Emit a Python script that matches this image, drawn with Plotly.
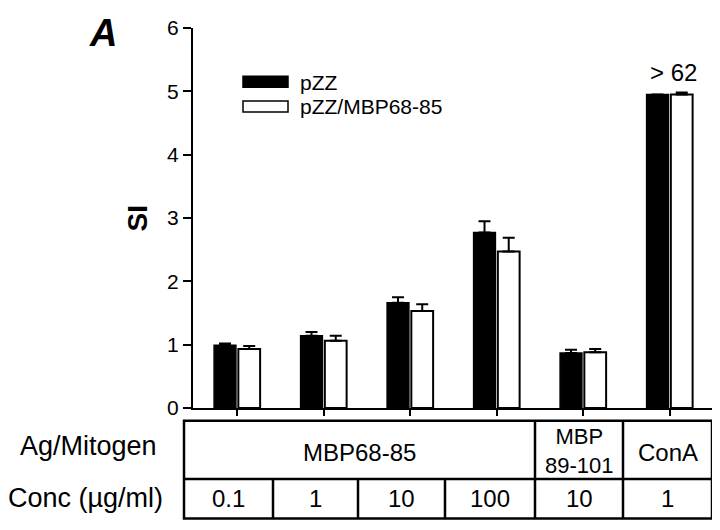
import plotly.graph_objects as go

# данные
groups = [0, 1, 2, 3, 4, 5]
pzz = [0.99, 1.14, 1.66, 2.77, 0.87, 4.95]
pzz_err = [0.03, 0.06, 0.09, 0.18, 0.05, 0.0]
pzz_mbp = [0.93, 1.06, 1.53, 2.47, 0.88, 4.95]
pzz_mbp_err = [0.05, 0.08, 0.11, 0.22, 0.05, 0.03]
ag_labels = ["MBP68-85", "MBP<br>89-101", "ConA"]
ag_spans = [(0, 4), (4, 5), (5, 6)]
conc_labels = ["0.1", "1", "10", "100", "10", "1"]
y_ticks = [0, 1, 2, 3, 4, 5, 6]

FONT = "Liberation Sans, Arial, sans-serif"
# страница добавляет отступ body 8px, поэтому фигура чуть меньше окна
OFF = 8
W, HGT = 720 - OFF, 530 - OFF
# границы области графика в пикселях окна
L, R, T, B = 193, 712, 23, 408


def fx(p):
    return (p - L) / (R - L)


def fy(p):
    return (B - p) / (B - T)


fig = go.Figure()
fig.add_trace(go.Bar(
    x=groups, y=pzz, name="pZZ",
    marker=dict(color="black", line=dict(color="black", width=1.5)),
    error_y=dict(type="data", array=pzz_err, symmetric=False,
                 arrayminus=[0] * len(pzz), color="black", thickness=2, width=6),
))
fig.add_trace(go.Bar(
    x=groups, y=pzz_mbp, name="pZZ/MBP68-85",
    marker=dict(color="white", line=dict(color="black", width=2)),
    error_y=dict(type="data", array=pzz_mbp_err, symmetric=False,
                 arrayminus=[0] * len(pzz_mbp), color="black", thickness=2, width=6),
))

shapes = []
ann = []

# легенда вручную (широкие прямоугольники)
for i, (name, col) in enumerate([("pZZ", "black"), ("pZZ/MBP68-85", "white")]):
    top = 72 + i * 25
    shapes.append(dict(type="rect", xref="paper", yref="paper",
                       x0=fx(243), x1=fx(288), y0=fy(top + 11), y1=fy(top),
                       fillcolor=col, line=dict(color="black", width=1.5)))
    ann.append(dict(x=fx(298), y=fy(top + 6), xref="paper", yref="paper",
                    text=name, showarrow=False, xanchor="left", yanchor="middle",
                    font=dict(size=21, color="black")))

# таблица под осью
t_top, t_mid, t_bot = 421, 480, 520
seps = [184, 273, 358, 445, 535, 623, 712]
shapes.append(dict(type="rect", xref="paper", yref="paper",
                   x0=fx(seps[0]), x1=fx(seps[-1]), y0=fy(t_bot), y1=fy(t_top),
                   line=dict(color="black", width=2.5)))
shapes.append(dict(type="line", xref="paper", yref="paper",
                   x0=fx(seps[0]), x1=fx(seps[-1]), y0=fy(t_mid), y1=fy(t_mid),
                   line=dict(color="black", width=2.5)))
for s in seps[1:-1]:
    shapes.append(dict(type="line", xref="paper", yref="paper",
                       x0=fx(s), x1=fx(s), y0=fy(t_bot), y1=fy(t_mid),
                       line=dict(color="black", width=2.5)))
for a, b in ag_spans[1:]:
    shapes.append(dict(type="line", xref="paper", yref="paper",
                       x0=fx(seps[a]), x1=fx(seps[a]), y0=fy(t_mid), y1=fy(t_top),
                       line=dict(color="black", width=2.5)))

for lab, (a, b) in zip(ag_labels, ag_spans):
    two = "<br>" in lab
    ann.append(dict(x=fx((seps[a] + seps[b]) / 2), y=fy((t_top + t_mid) / 2 + (1 if two else 3)),
                    xref="paper", yref="paper", text=lab, showarrow=False,
                    xanchor="center", yanchor="middle",
                    font=dict(size=22 if two else 24, color="black")))
for i, lab in enumerate(conc_labels):
    ann.append(dict(x=fx((seps[i] + seps[i + 1]) / 2), y=fy((t_mid + t_bot) / 2),
                    xref="paper", yref="paper", text=lab, showarrow=False,
                    xanchor="center", yanchor="middle",
                    font=dict(size=24, color="black")))

ann.append(dict(x=fx(159), y=fy(446), xref="paper", yref="paper",
                text="Ag/Mitogen", showarrow=False, xanchor="right", yanchor="middle",
                font=dict(size=27, color="black")))
ann.append(dict(x=fx(165), y=fy(499), xref="paper", yref="paper",
                text="Conc (µg/ml)", showarrow=False, xanchor="right", yanchor="middle",
                font=dict(size=27, color="black")))

# подписи
ann.append(dict(x=fx(137), y=fy(216), xref="paper", yref="paper",
                text="<b>SI</b>", showarrow=False, textangle=-90,
                xanchor="center", yanchor="middle", font=dict(size=28, color="black")))
ann.append(dict(x=fx(103), y=fy(28), xref="paper", yref="paper",
                text="<b><i>A</i></b>", showarrow=False,
                xanchor="center", yanchor="middle", font=dict(size=38, color="black")))
ann.append(dict(x=5.04, y=pzz[5], xref="x", yref="y", yshift=22,
                text="> 62", showarrow=False, xanchor="center", yanchor="middle",
                font=dict(size=24, color="black")))

fig.update_layout(
    width=W, height=HGT,
    margin=dict(l=L - OFF, r=720 - R, t=T - OFF, b=530 - B),
    paper_bgcolor="white", plot_bgcolor="white",
    font=dict(family=FONT, color="black"),
    barmode="group", bargap=0.44, bargroupgap=0.1,
    showlegend=False,
    shapes=shapes, annotations=ann,
    xaxis=dict(range=[-0.51, 5.49], tickvals=groups, showticklabels=False,
               ticks="outside", ticklen=6, tickwidth=2, tickcolor="black",
               showline=True, linecolor="black", linewidth=2,
               showgrid=False, zeroline=False),
    yaxis=dict(range=[0, 6], tickvals=y_ticks,
               ticks="outside", ticklen=8, tickwidth=2, tickcolor="black",
               tickfont=dict(size=21, color="black"),
               showline=True, linecolor="black", linewidth=2,
               showgrid=False, zeroline=False),
)

fig.write_html("out.html")
